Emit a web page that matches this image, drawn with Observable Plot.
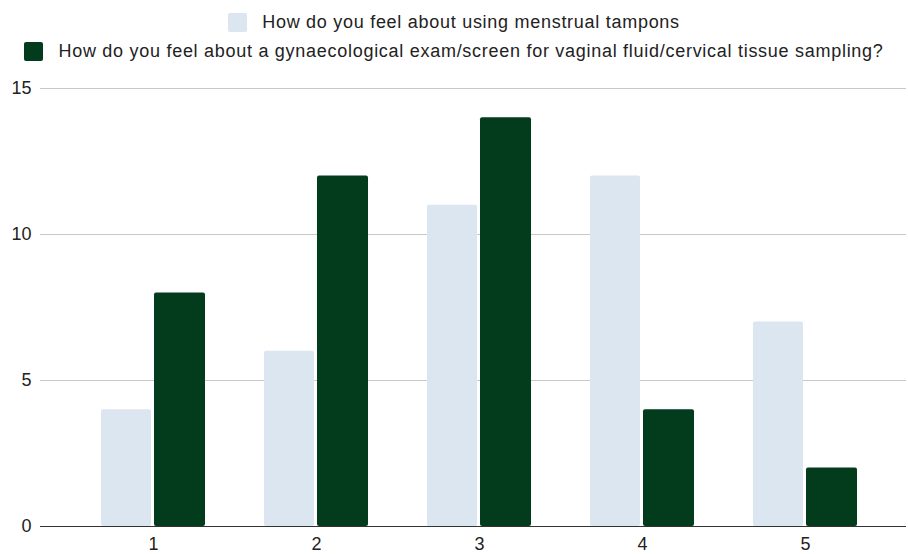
<!DOCTYPE html>
<html><head><meta charset="utf-8">
<script src="https://cdn.jsdelivr.net/npm/d3@7"></script>
<script src="https://cdn.jsdelivr.net/npm/@observablehq/plot@0.6"></script>
<style>
body{margin:0;background:#fff;font-family:"Liberation Sans",Arial,sans-serif;}
#legend{height:70px;display:flex;flex-direction:column;align-items:center;justify-content:flex-start;box-sizing:border-box;}
.item{display:flex;align-items:center;font-size:18px;letter-spacing:0.72px;color:#222;height:29px;}
.sw{width:19px;height:19px;border-radius:2px;margin-right:15px;flex:none;}
</style></head><body>
<div id="legend"></div>
<div id="chart"></div>
<script>
const categories = ["1","2","3","4","5"];
const seriesNames = ["How do you feel about using menstrual tampons","How do you feel about a gynaecological exam/screen for vaginal fluid/cervical tissue sampling?"];
const tampons = [4, 6, 11, 12, 7];
const exam = [8, 12, 14, 4, 2];
const colors = ["#dbe6f0", "#033c1c"];
const yTicks = [0, 5, 10, 15];

const leg = document.getElementById("legend");
seriesNames.forEach((n,i)=>{
  const d = document.createElement("div"); d.className="item";
  d.innerHTML = `<span class="sw" style="background:${colors[i]}"></span><span>${n}</span>`;
  leg.appendChild(d);
});
leg.firstChild.style.marginTop="8px";

const data = [];
categories.forEach((c,i)=>{
  data.push({cat:c, s:seriesNames[0], v:tampons[i]});
  data.push({cat:c, s:seriesNames[1], v:exam[i]});
});

const plot = Plot.plot({
  width: 908, height: 484,
  marginTop: 18, marginBottom: 28, marginLeft: 40, marginRight: 2,
  style: {fontFamily: '"Liberation Sans", Arial, sans-serif', fontSize: "18px", color: "#222"},
  x: {domain: categories, range: [100, 858], paddingInner: 0.364, paddingOuter: 0, label: null},
  y: {domain: [0, 15], label: null},
  color: {domain: seriesNames, range: colors},
  marks: [
    Plot.ruleY(yTicks.filter(t=>t>0), {stroke: "#c8c8c8", strokeWidth: 1}),
    Plot.barY(data.filter(d=>d.s===seriesNames[0]), {x:"cat", y:"v", fill:"s", insetRight: 54, rx: 2}),
    Plot.barY(data.filter(d=>d.s===seriesNames[1]), {x:"cat", y:"v", fill:"s", insetLeft: 53, rx: 2}),
    Plot.ruleY([0], {stroke: "#333", strokeWidth: 1}),
    Plot.axisY({ticks: yTicks, tickSize: 0, tickPadding: 9, label: null, fontSize: 18}),
    Plot.axisX({tickSize: 0, tickPadding: 11, label: null, fontSize: 18})
  ]
});
document.getElementById("chart").appendChild(plot);
</script></body></html>
